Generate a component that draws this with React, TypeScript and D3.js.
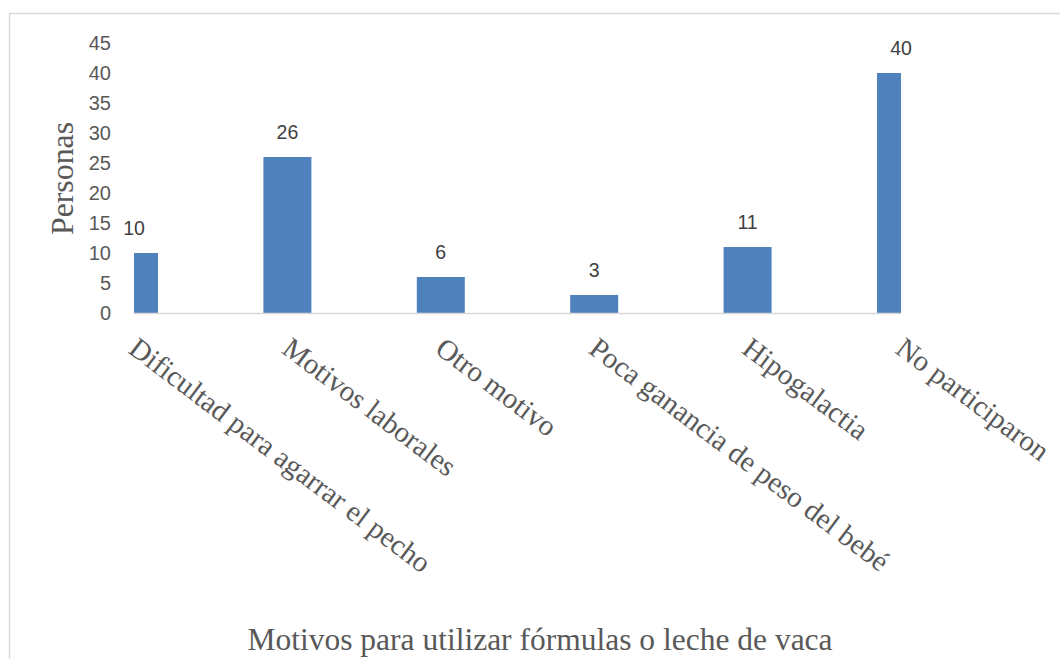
import React from "react";
import * as d3 from "d3";

const categories = [
  "Dificultad para agarrar el pecho",
  "Motivos laborales",
  "Otro motivo",
  "Poca ganancia de peso del bebé",
  "Hipogalactia",
  "No participaron",
];
const values = [10, 26, 6, 3, 11, 40];
const yTicks = [0, 5, 10, 15, 20, 25, 30, 35, 40, 45];
const yTitle = "Personas";
const xTitle = "Motivos para utilizar fórmulas o leche de vaca";

export default function App() {
  const W = 1060;
  const H = 659;
  const left = 134;
  const right = 901;
  const top = 43;
  const bottom = 313;
  const x = d3.scalePoint<string>().domain(categories).range([left, right]);
  const y = d3.scaleLinear().domain([0, 45]).range([bottom, top]);
  const barW = 48;
  const serif = "'Liberation Serif', 'Times New Roman', serif";
  const sans = "'Liberation Sans', Arial, sans-serif";

  return (
    <svg
      width={W}
      height={H}
      style={{ position: "absolute", left: 0, top: 0, background: "#fff" }}
    >
      <defs>
        <clipPath id="plotClip">
          <rect x={left} y={0} width={right - left} height={bottom + 1} />
        </clipPath>
      </defs>
      <rect x={9.5} y={13.5} width={W + 20} height={H + 20} fill="#fff" stroke="#d9d9d9" strokeWidth={1.5} />

      {/* y tick labels */}
      {yTicks.map((t) => (
        <text
          key={t}
          x={111}
          y={y(t)}
          dy="0.36em"
          textAnchor="end"
          fontFamily={sans}
          fontSize={20}
          fill="#595959"
        >
          {t}
        </text>
      ))}

      {/* bars */}
      <g clipPath="url(#plotClip)">
        {categories.map((c, i) => (
          <rect
            key={c}
            x={(x(c) as number) - barW / 2}
            y={y(values[i])}
            width={barW}
            height={y(0) - y(values[i])}
            fill="#4f81bd"
          />
        ))}
      </g>

      {/* baseline */}
      <line x1={left} x2={right} y1={bottom + 0.5} y2={bottom + 0.5} stroke="#d9d9d9" strokeWidth={1.5} />

      {/* data labels */}
      {categories.map((c, i) => (
        <text
          key={c}
          x={x(c) as number}
          y={y(values[i]) - 18}
          textAnchor="middle"
          fontFamily={sans}
          fontSize={19.5}
          fill="#404040"
        >
          {values[i]}
        </text>
      ))}

      {/* category labels */}
      {categories.map((c) => {
        const px = (x(c) as number) - 7;
        const py = 352;
        return (
          <text
            key={c}
            transform={`translate(${px},${py}) rotate(37)`}
            fontFamily={serif}
            fontSize={29}
            fill="#595959"
          >
            {c}
          </text>
        );
      })}

      {/* y title */}
      <text
        transform={`translate(73,178.5) rotate(-90)`}
        textAnchor="middle"
        fontFamily={serif}
        fontSize={32}
        fill="#595959"
        textLength={113}
        lengthAdjust="spacingAndGlyphs"
      >
        {yTitle}
      </text>

      {/* x title */}
      <text
        x={540}
        y={650}
        textAnchor="middle"
        fontFamily={serif}
        fontSize={31.5}
        fill="#595959"
      >
        {xTitle}
      </text>
    </svg>
  );
}
